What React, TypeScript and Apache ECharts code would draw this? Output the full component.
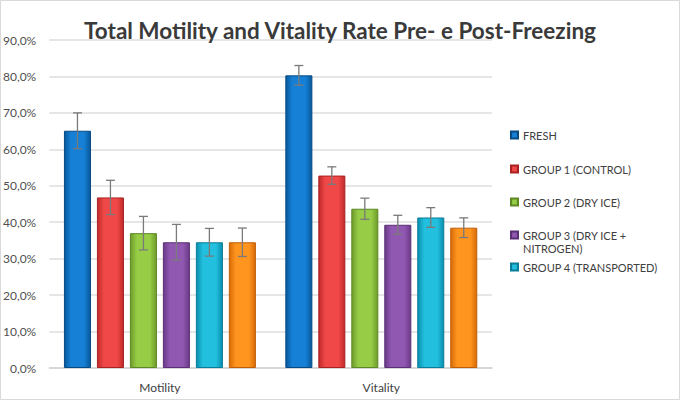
import React, { useEffect, useRef } from "react";
import * as echarts from "echarts";

const categories = ["Motility", "Vitality"];
const seriesNames = [
  "FRESH",
  "GROUP 1 (CONTROL)",
  "GROUP 2 (DRY ICE)",
  "GROUP 3 (DRY ICE + NITROGEN)",
  "GROUP 4 (TRANSPORTED)",
  "GROUP 5",
];
const fresh = [65.1, 80.3];
const group1 = [46.8, 52.8];
const group2 = [37.0, 43.7];
const group3 = [34.5, 39.3];
const group4 = [34.5, 41.3];
const group5 = [34.5, 38.5];
const freshErr = [4.9, 2.7];
const group1Err = [4.7, 2.4];
const group2Err = [4.6, 2.9];
const group3Err = [4.9, 2.6];
const group4Err = [3.8, 2.7];
const group5Err = [3.9, 2.7];
const yTicks = [0, 10, 20, 30, 40, 50, 60, 70, 80, 90];

const values = [fresh, group1, group2, group3, group4, group5];
const errors = [freshErr, group1Err, group2Err, group3Err, group4Err, group5Err];
const palette = [
  { mid: "#1680d6", edge: "#07589a", border: "#064a84" },
  { mid: "#f04848", edge: "#c02a2a", border: "#a82222" },
  { mid: "#96cc46", edge: "#6e9c2a", border: "#5e8824" },
  { mid: "#9158b2", edge: "#6a3a88", border: "#5a2f76" },
  { mid: "#22c0de", edge: "#0a8eae", border: "#087c98" },
  { mid: "#ff951f", edge: "#d86c08", border: "#c05e06" },
];
const legendCenters = [135, 169, 202, 235, 267];

const BAR_GAP = 0.22;
const CAT_GAP = 0.133;

export default function App() {
  const ref = useRef<HTMLDivElement>(null);
  useEffect(() => {
    if (!ref.current) return;
    const chart = echarts.init(ref.current, null, { renderer: "svg" });
    const n = values.length;
    const barSeries = values.map((vals, i) => ({
      name: seriesNames[i],
      type: "bar",
      data: vals,
      barGap: `${BAR_GAP * 100}%`,
      barCategoryGap: `${CAT_GAP * 100}%`,
      itemStyle: {
        color: new echarts.graphic.LinearGradient(0, 0, 1, 0, [
          { offset: 0, color: palette[i].edge },
          { offset: 0.25, color: palette[i].mid },
          { offset: 0.75, color: palette[i].mid },
          { offset: 1, color: palette[i].edge },
        ]),
        borderColor: palette[i].border,
        borderWidth: 1,
      },
      z: 2,
    }));
    const errData: number[][] = [];
    values.forEach((vals, gi) => {
      vals.forEach((v, ci) => {
        errData.push([ci, gi, v - errors[gi][ci], v + errors[gi][ci]]);
      });
    });
    const errSeries = {
      name: "errors",
      type: "custom",
      data: errData,
      encode: { x: 0, y: [2, 3] },
      z: 5,
      renderItem: (params: any, api: any) => {
        const ci = api.value(0);
        const gi = api.value(1);
        const lo = api.value(2);
        const hi = api.value(3);
        const bw = api.size([1, 0])[0];
        const rem = bw * (1 - CAT_GAP);
        const w = rem / (n + (n - 1) * BAR_GAP);
        const start = -rem / 2;
        const off = start + gi * w * (1 + BAR_GAP) + w / 2;
        const pLo = api.coord([ci, lo]);
        const pHi = api.coord([ci, hi]);
        const x = pLo[0] + off;
        const cap = 4.5;
        const style = { stroke: "#7a7a7a", lineWidth: 1.3 };
        return {
          type: "group",
          children: [
            { type: "line", shape: { x1: x, y1: pLo[1], x2: x, y2: pHi[1] }, style },
            { type: "line", shape: { x1: x - cap, y1: pLo[1], x2: x + cap, y2: pLo[1] }, style },
            { type: "line", shape: { x1: x - cap, y1: pHi[1], x2: x + cap, y2: pHi[1] }, style },
          ],
        };
      },
    };
    const legends = seriesNames.slice(0, 5).map((name, i) => {
      const multi = name.includes("+ ");
      return {
        data: [name],
        orient: "vertical",
        left: 510,
        top: legendCenters[i] - (multi ? 19.5 : 6.5),
        padding: 0,
        itemWidth: 7,
        itemHeight: 7,
        itemGap: 0,
        icon: "rect",
        selectedMode: false,
        formatter: (s: string) => (s.includes("+ ") ? "\n" + s.replace("+ ", "+\n") : s),
        textStyle: {
          fontFamily: "Lato",
          fontSize: 11,
          color: "#404040",
          lineHeight: 13,
        },
      };
    });
    chart.setOption({
      animation: false,
      backgroundColor: "#ffffff",
      title: {
        text: "Total Motility and Vitality Rate Pre- e Post-Freezing",
        left: "center",
        top: 14,
        textStyle: {
          fontFamily: "Lato",
          fontWeight: "bold",
          fontSize: 22.5,
          color: "#3a3a3a",
        },
      },
      legend: legends,
      grid: { left: 49, right: 188, top: 40, bottom: 34, containLabel: false },
      xAxis: {
        type: "category",
        data: categories,
        axisTick: { show: false },
        axisLine: { lineStyle: { color: "#d4d4d4", width: 1.5 } },
        axisLabel: { fontFamily: "Lato", fontSize: 12, color: "#404040", margin: 13 },
      },
      yAxis: {
        type: "value",
        min: yTicks[0],
        max: yTicks[yTicks.length - 1],
        interval: 10,
        axisLine: { show: false },
        axisTick: { show: false },
        splitLine: { lineStyle: { color: "#dedede", width: 1.5 } },
        axisLabel: {
          fontFamily: "Lato",
          fontSize: 12,
          color: "#505050",
          margin: 13,
          formatter: (v: number) => v.toFixed(1).replace(".", ",") + "%",
        },
      },
      graphic: [
        {
          type: "rect",
          shape: { x: 0.5, y: 0.5, width: 679, height: 399 },
          style: { fill: "none", stroke: "#d9d9d9", lineWidth: 1 },
          silent: true,
        },
      ],
      series: [...barSeries, errSeries],
    });
    return () => chart.dispose();
  }, []);
  return (
    <div
      ref={ref}
      style={{ position: "fixed", left: 0, top: 0, width: 680, height: 402 }}
    />
  );
}
